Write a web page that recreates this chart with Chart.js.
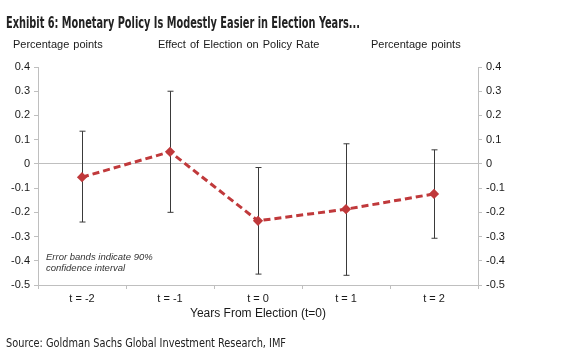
<!DOCTYPE html>
<html>
<head>
<meta charset="utf-8">
<script src="https://cdn.jsdelivr.net/npm/chart.js@4"></script>
<style>
  body { margin: 0; background: #fff; }
  #wrap { position: relative; width: 572px; height: 363px; overflow: hidden; }
  #chart { position: absolute; left: 0; top: 0; }
  .txt { position: absolute; white-space: nowrap; color: #1a1a1a; }
  #title { left: 6px; top: 14px; font: bold 15px "DejaVu Sans Condensed", sans-serif; color: #222; transform-origin: 0 0; }
  .sub { top: 38px; font: 11px "Liberation Sans", Arial, sans-serif; word-spacing: 1px; }
  #note { left: 46px; top: 251px; font: italic 9.5px "Liberation Sans", Arial, sans-serif; line-height: 11px; color: #333; }
  #source { left: 6px; top: 336px; font: 11.5px "DejaVu Sans Condensed", sans-serif; color: #222; transform-origin: 0 0; }
</style>
</head>
<body>
<div id="wrap">
  <canvas id="chart" width="572" height="363"></canvas>
  <div class="txt" id="title">Exhibit 6: Monetary Policy Is Modestly Easier in Election Years...</div>
  <div class="txt sub" style="left:13px">Percentage points</div>
  <div class="txt sub" style="left:158px">Effect of Election on Policy Rate</div>
  <div class="txt sub" style="left:371px">Percentage points</div>
  <div class="txt" id="note">Error bands indicate 90%<br>confidence interval</div>
  <div class="txt" id="source">Source: Goldman Sachs Global Investment Research, IMF</div>
</div>
<script>
// data
const years = ['t = -2', 't = -1', 't = 0', 't = 1', 't = 2'];
const effect = [-0.055, 0.05, -0.235, -0.187, -0.124];
const upper = [0.135, 0.30, -0.015, 0.083, 0.058];
const lower = [-0.24, -0.20, -0.455, -0.46, -0.307];

const red = '#c0393b';
const axisGray = '#bfbfbf';

// squeeze the condensed heading texts to the widths in the original
function fitWidth(id, target) {
  const el = document.getElementById(id);
  const w = el.getBoundingClientRect().width;
  el.style.transform = 'scaleX(' + (target / w) + ')';
}
fitWidth('title', 354);
fitWidth('source', 280);

// error bars drawn from the upper/lower arrays through the y scale
const errorBars = {
  id: 'errorBars',
  beforeDatasetsDraw(chart) {
    const ctx = chart.ctx;
    const x = chart.scales.x;
    const y = chart.scales.y;
    ctx.save();
    ctx.strokeStyle = '#3a3a3a';
    ctx.lineWidth = 1;
    years.forEach((c, i) => {
      const px = Math.round(x.getPixelForValue(i)) + 0.5;
      const top = y.getPixelForValue(upper[i]);
      const bot = y.getPixelForValue(lower[i]);
      ctx.beginPath();
      ctx.moveTo(px, top); ctx.lineTo(px, bot);
      ctx.moveTo(px - 3, top); ctx.lineTo(px + 3, top);
      ctx.moveTo(px - 3, bot); ctx.lineTo(px + 3, bot);
      ctx.stroke();
    });
    ctx.restore();
  }
};

const tickFont = { family: '"Liberation Sans", Arial, sans-serif', size: 11 };
const fmt = v => (Math.round(v * 10) / 10).toString();

const yAxis = (pos, width) => ({
  position: pos,
  min: -0.5,
  max: 0.4,
  afterFit: s => { s.width = width; },
  ticks: { stepSize: 0.1, color: '#1a1a1a', font: tickFont, padding: 4, callback: fmt },
  border: { display: true, color: axisGray, width: 1 },
  grid: {
    drawOnChartArea: pos === 'left',
    color: ctx => (ctx.tick && ctx.tick.value === 0 ? axisGray : 'rgba(0,0,0,0)'),
    tickColor: axisGray,
    tickLength: 4
  }
});

new Chart(document.getElementById('chart'), {
  type: 'line',
  data: {
    labels: years,
    datasets: [{
      data: effect,
      borderColor: red,
      backgroundColor: red,
      borderWidth: 3,
      borderDash: [7, 4],
      pointStyle: 'rectRot',
      pointRadius: 3,
      pointBackgroundColor: red,
      pointBorderColor: red,
      yAxisID: 'y'
    }]
  },
  options: {
    responsive: false,
    animation: false,
    layout: { padding: { top: 67, left: 0, right: 0, bottom: 41 } },
    plugins: { legend: { display: false }, tooltip: { enabled: false } },
    scales: {
      x: {
        offset: true,
        afterFit: s => { s.height = 37; },
        ticks: { color: '#1a1a1a', font: tickFont, padding: 3, maxRotation: 0 },
        border: { display: true, color: axisGray, width: 1 },
        grid: { drawOnChartArea: false, offset: true, tickColor: axisGray, tickLength: 4 },
        title: {
          display: true,
          text: 'Years From Election (t=0)',
          color: '#1a1a1a',
          font: { family: '"Liberation Sans", Arial, sans-serif', size: 12 },
          padding: { top: 0, bottom: 1 }
        }
      },
      y: yAxis('left', 38),
      y2: yAxis('right', 94)
    }
  },
  plugins: [errorBars]
});
</script>
</body>
</html>
